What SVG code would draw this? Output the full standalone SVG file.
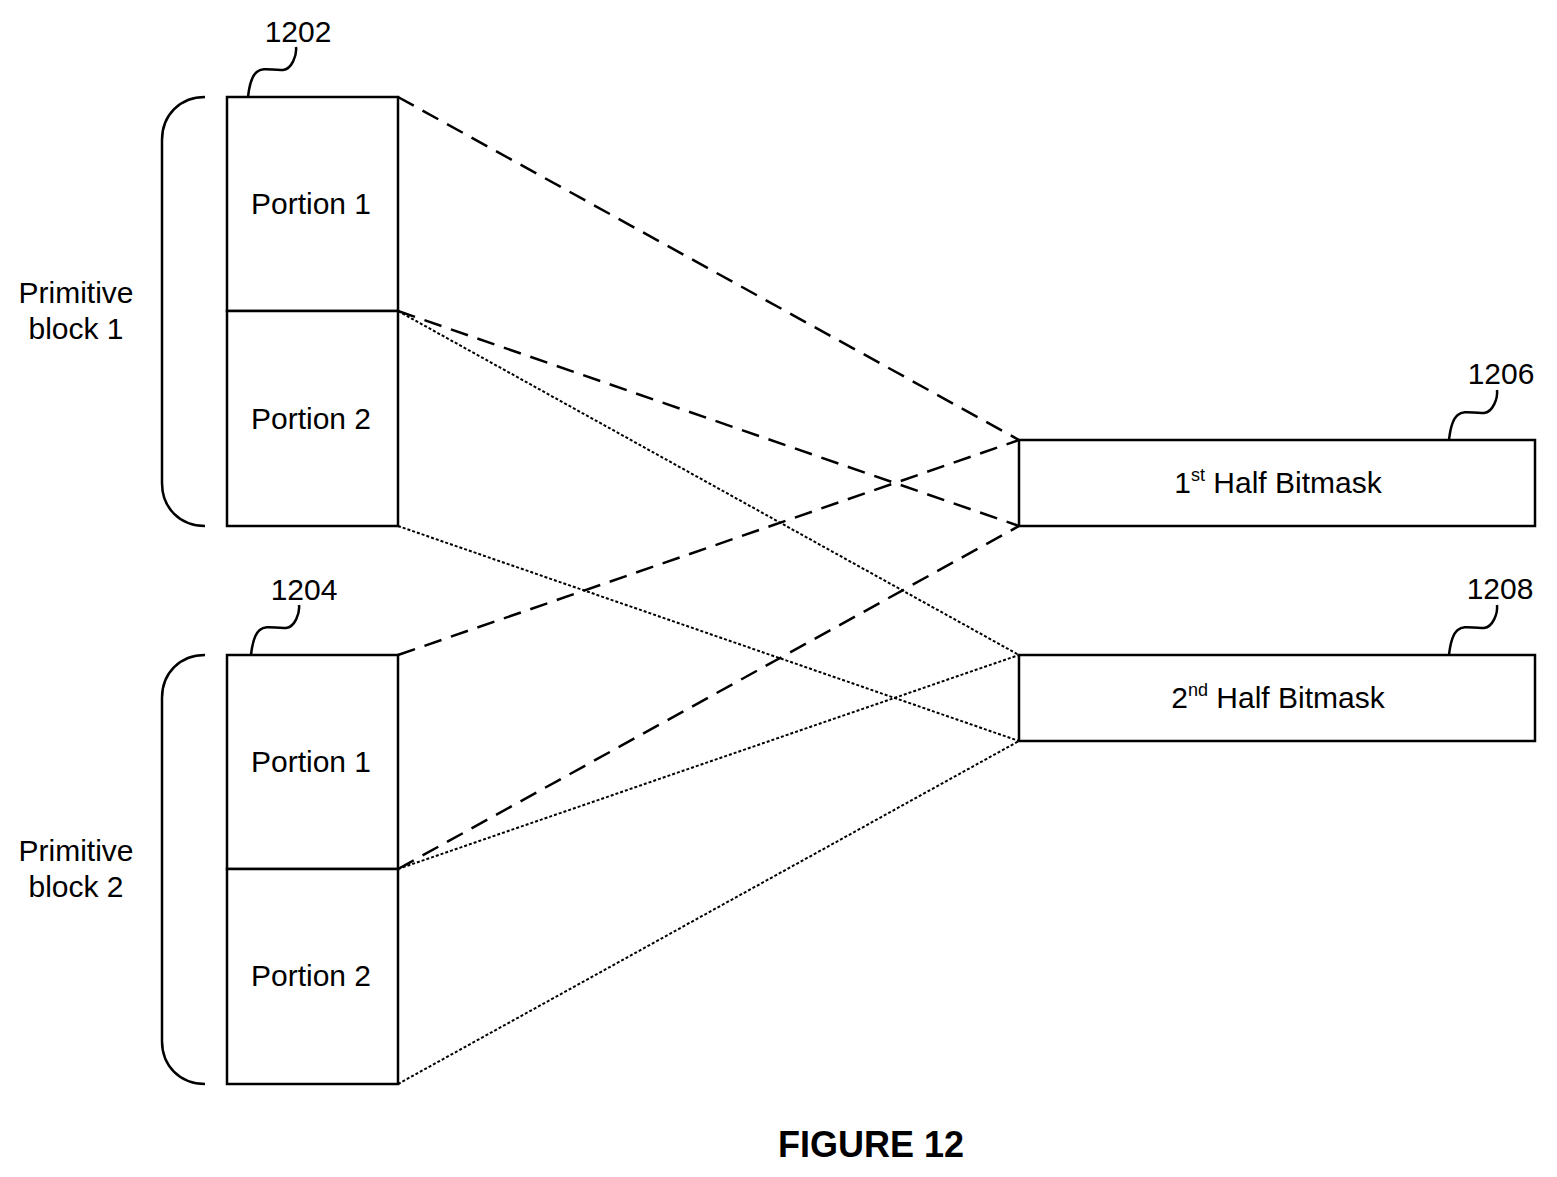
<svg xmlns="http://www.w3.org/2000/svg" width="1557" height="1177" viewBox="0 0 1557 1177">
<style>
.b{fill:#fff;stroke:#000;stroke-width:2.5}
.l{fill:none;stroke:#000;stroke-width:2.5}
.t{font-family:"Liberation Sans",Arial,sans-serif;font-size:30px;fill:#000}
.da{stroke:#000;stroke-width:2.5;stroke-dasharray:18,10;fill:none}
.do{stroke:#000;stroke-width:2;stroke-dasharray:3,2;fill:none}
</style>
<rect width="1557" height="1177" fill="#fff"/>
<g id="connectors">
<line class="da" x1="398" y1="97" x2="1019" y2="440"/>
<line class="da" x1="398" y1="311" x2="1019" y2="526"/>
<line class="da" x1="398" y1="655" x2="1019" y2="440"/>
<line class="da" x1="398" y1="869" x2="1019" y2="526"/>
<line class="do" x1="398" y1="311" x2="1019" y2="655"/>
<line class="do" x1="398" y1="526" x2="1019" y2="741"/>
<line class="do" x1="398" y1="869" x2="1019" y2="655"/>
<line class="do" x1="398" y1="1084" x2="1019" y2="741"/>
</g>
<g id="block1">
<rect class="b" x="227" y="97" width="171" height="214"/>
<rect class="b" x="227" y="311" width="171" height="215"/>
<text class="t" x="311" y="214" text-anchor="middle">Portion 1</text>
<text class="t" x="311" y="429" text-anchor="middle">Portion 2</text>
<path class="l" d="M205,97 C180,97 162,115 162,140 L162,483 C162,508 180,526 205,526"/>
<text class="t" x="76" y="303" text-anchor="middle">Primitive</text>
<text class="t" x="76" y="339" text-anchor="middle">block 1</text>
<path class="l" d="M248,97 C252,60 265,71 283,70 C292,69 297,55 296,47"/>
<text class="t" x="298" y="42" text-anchor="middle">1202</text>
</g>
<g id="block2">
<rect class="b" x="227" y="655" width="171" height="214"/>
<rect class="b" x="227" y="869" width="171" height="215"/>
<text class="t" x="311" y="772" text-anchor="middle">Portion 1</text>
<text class="t" x="311" y="986" text-anchor="middle">Portion 2</text>
<path class="l" d="M205,655 C180,655 162,673 162,698 L162,1041 C162,1066 180,1084 205,1084"/>
<text class="t" x="76" y="861" text-anchor="middle">Primitive</text>
<text class="t" x="76" y="897" text-anchor="middle">block 2</text>
<path class="l" d="M251,655 C255,618 268,629 286,628 C295,627 300,613 299,605"/>
<text class="t" x="304" y="600" text-anchor="middle">1204</text>
</g>
<g id="bitmask1">
<rect class="b" x="1019" y="440" width="516" height="86"/>
<text class="t" x="1278" y="493" text-anchor="middle">1<tspan font-size="18" dy="-12">st</tspan><tspan dy="12"> Half Bitmask</tspan></text>
<path class="l" d="M1449,440 C1453,403 1466,414 1484,413 C1493,412 1498,398 1497,390"/>
<text class="t" x="1501" y="384" text-anchor="middle">1206</text>
</g>
<g id="bitmask2">
<rect class="b" x="1019" y="655" width="516" height="86"/>
<text class="t" x="1278" y="708" text-anchor="middle">2<tspan font-size="18" dy="-12">nd</tspan><tspan dy="12"> Half Bitmask</tspan></text>
<path class="l" d="M1449,655 C1453,618 1466,629 1484,628 C1493,627 1498,613 1497,605"/>
<text class="t" x="1500" y="599" text-anchor="middle">1208</text>
</g>
<text x="871" y="1157" text-anchor="middle" font-family="Liberation Sans,Arial,sans-serif" font-size="36" font-weight="bold">FIGURE 12</text>
</svg>
